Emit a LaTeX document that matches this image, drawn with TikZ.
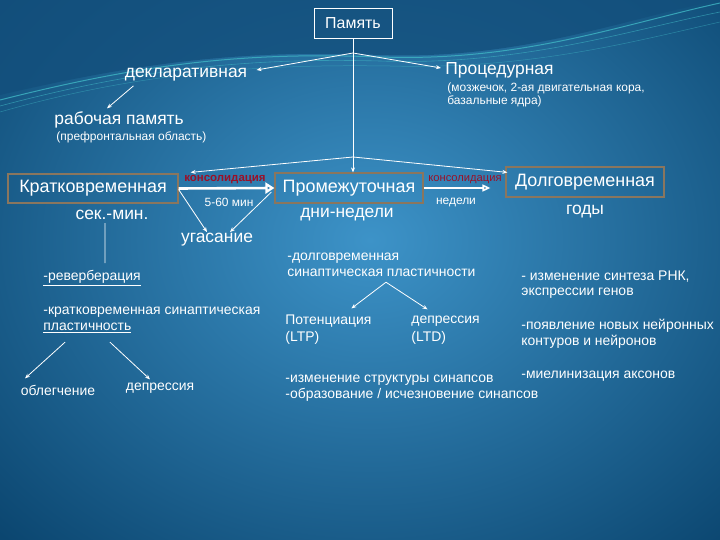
\documentclass[tikz,border=0pt]{standalone}
\usepackage{fontspec}
\setmainfont{Liberation Sans}
\usetikzlibrary{arrows.meta,positioning}
\definecolor{bgdark}{HTML}{0B4670}
\definecolor{bglight}{HTML}{3D93C8}
\definecolor{bgtop}{HTML}{134F7C}
\definecolor{wave}{HTML}{3FB6C4}
\definecolor{boxbrown}{HTML}{8A765E}
\definecolor{consred}{HTML}{9A1028}

\begin{document}
\begin{tikzpicture}[x=1bp,y=-1bp,white,line width=0.8bp]
\tikzstyle{bx}=[draw=boxbrown,line width=1.2bp,text=white,font=\fontsize{18}{20}\selectfont]
\tikzstyle{big}=[text=white,font=\fontsize{17.5}{19}\selectfont,inner sep=1bp]
\tikzstyle{mid}=[text=white,font=\fontsize{14}{16}\selectfont,inner sep=1bp,align=left]
\tikzstyle{small}=[text=white,font=\fontsize{12}{13}\selectfont,inner sep=1bp,align=left]
\tikzstyle{cons}=[text=consred,font=\fontsize{11.2}{12}\selectfont,inner sep=1bp]
\tikzstyle{arr}=[-{Stealth[length=5bp,width=4bp]},white]
% background
\useasboundingbox (0,0) rectangle (720,540);
\begin{scope}
\clip (0,0) rectangle (720,540);
\fill[bgdark] (0,0) rectangle (720,540);
\shade[inner color=bglight,outer color=bgdark] (370,240) ellipse (520 and 420);
\fill[bgtop,opacity=0.8] (0,0) -- (0,95) .. controls (150,60) and (250,50) .. (380,55)
  .. controls (520,60) and (620,20) .. (720,0) -- cycle;
\draw[wave,line width=1bp,opacity=0.8] (0,100) .. controls (150,62) and (250,52) .. (380,57)
  .. controls (520,62) and (620,25) .. (720,3);
\draw[wave,line width=0.6bp,opacity=0.6] (0,106) .. controls (150,66) and (260,58) .. (380,61)
  .. controls (520,66) and (630,30) .. (720,12);
\draw[wave,line width=0.5bp,opacity=0.5] (0,112) .. controls (140,72) and (260,64) .. (390,66)
  .. controls (530,70) and (640,40) .. (720,22);
\end{scope}

% top
\node[bx,draw=white,line width=0.8bp,minimum width=78bp,minimum height=30bp,font=\fontsize{16}{18}\selectfont] (mem) at (353,23) {Память};
\coordinate (b1) at (353,53);
\coordinate (b2) at (353,157);
\node[big] (decl) at (186,75) {декларативная};
\node[big,anchor=west] (proc) at (444,70) {Процедурная};
\node[small,anchor=north west] (procsub) at (446,81) {(мозжечок, 2-ая двигательная кора,\\базальные ядра)};
\node[big,anchor=west] (work) at (53,120) {рабочая память};
\node[small,anchor=west] (worksub) at (55,137) {(префронтальная область)};

% three stages
\node[bx,minimum width=170bp,minimum height=29bp] (short) at (93,188.5) {Кратковременная};
\node[bx,minimum width=148bp,minimum height=30bp] (inter) at (349,188) {Промежуточная};
\node[bx,minimum width=158bp,minimum height=30bp] (long) at (585,182) {Долговременная};
\node[big] (sec) at (112,215) {сек.-мин.};
\node[big] (days) at (347,215) {дни-недели};
\node[big] (years) at (585,212) {годы};
\node[big] (fade) at (217,240) {угасание};
\node[cons,font=\fontsize{11.5}{12}\bfseries] (cons1) at (225,180) {консолидация};
\node[small] (min) at (229,202) {5-60 мин};
\node[cons] (cons2) at (465,180) {консолидация};
\node[small] (weeks) at (456,202) {недели};

% short-term
\node[mid,anchor=west] (rev) at (42,278) {\underline{-реверберация}};
\node[mid,anchor=west] (stp) at (42,312) {-кратковременная синаптическая};
\node[mid,anchor=west] (plast) at (42,328) {\underline{пластичность}};
\node[mid] (facil) at (58,390) {облегчение};
\node[mid] (dep1) at (160,388) {депрессия};

% intermediate
\node[mid,anchor=west] (ltp1) at (286,258) {-долговременная};
\node[mid,anchor=west] (ltp2) at (286,273) {синаптическая пластичности};
\node[mid,anchor=west] (pot) at (284,321) {Потенциация};
\node[mid,anchor=west] (potab) at (284,338) {(LTP)};
\node[mid,anchor=west] (dep2) at (410,321) {депрессия};
\node[mid,anchor=west] (depab) at (410,338) {(LTD)};
\node[mid,anchor=west] (str1) at (284,380) {-изменение структуры синапсов};
\node[mid,anchor=west] (str2) at (284,395) {-образование / исчезновение синапсов};

% long-term
\node[mid,anchor=west] (rna1) at (520,277) {- изменение синтеза РНК,};
\node[mid,anchor=west] (rna2) at (520,293) {экспрессии генов};
\node[mid,anchor=west] (new1) at (520,326) {-появление новых нейронных};
\node[mid,anchor=west] (new2) at (520,342) {контуров и нейронов};
\node[mid,anchor=west] (myel) at (520,376) {-миелинизация аксонов};

% connectors
\draw (mem) -- (b1);
\draw[arr] (b1) -- (b1 |- inter.north);
\draw[arr] (b1) -- ([xshift=8bp,yshift=5bp]decl.east);
\draw[arr] (b1) -- ([xshift=-3bp,yshift=2bp]proc.west);
\draw[arr] ([xshift=10bp,yshift=-3bp]decl.south west) -- ([xshift=54bp,yshift=2bp]work.north west);
\draw[arr] (b2) -- ([xshift=12bp,yshift=1bp]short.north east);
\draw[arr] (b2) -- ([xshift=2bp,yshift=-6bp]long.north west);
\draw[-{Triangle[open,length=9bp,width=11bp]},line width=2.6bp] (short.east) -- (inter.west);
\draw[arr] ([yshift=-1bp]short.east) -- ([xshift=-10bp]fade.north);
\draw[arr] ([xshift=-3bp,yshift=-4bp]inter.west) -- ([xshift=13bp]fade.north);
\draw[-{Triangle[open,length=8bp,width=7bp]},line width=1.6bp,shorten >=15bp] (inter.east) -- (inter.east -| long.west);
\draw ([xshift=-7bp,yshift=-2bp]sec.south) -- ([xshift=63bp,yshift=6bp]rev.north west);
\draw[arr] ([xshift=23bp,yshift=-8bp]plast.south west) -- ([xshift=-33bp,yshift=5bp]facil.north);
\draw[arr] ([xshift=68bp,yshift=-8bp]plast.south west) -- ([xshift=-10bp,yshift=2bp]dep1.north);
\draw[arr] ([xshift=100bp,yshift=-4bp]ltp2.south west) -- ([xshift=23bp,yshift=5bp]pot.north);
\draw[arr] ([xshift=100bp,yshift=-4bp]ltp2.south west) -- ([xshift=-18bp,yshift=5bp]dep2.north);
\end{tikzpicture}
\end{document}
